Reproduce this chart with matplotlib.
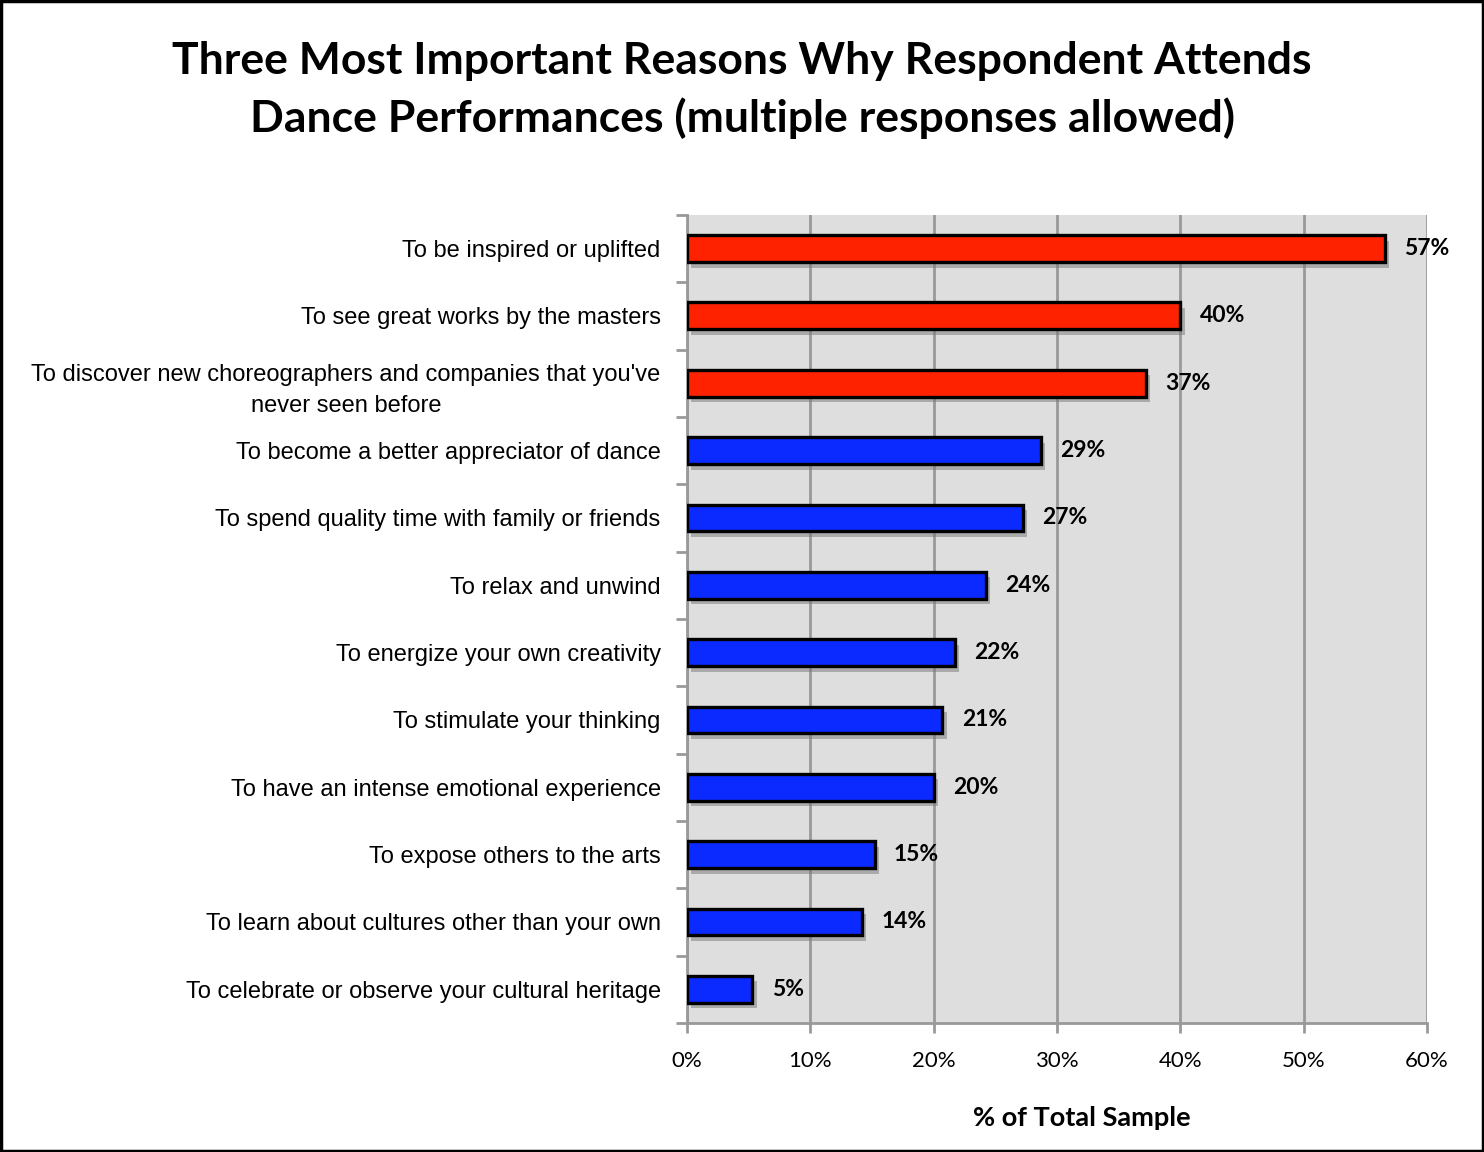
import matplotlib
matplotlib.use("Agg")
from matplotlib import pyplot as plt
import matplotlib.patheffects as pe

reasons = [
    "To be inspired or uplifted",
    "To see great works by the masters",
    "To discover new choreographers and companies that you've\nnever seen before",
    "To become a better appreciator of dance",
    "To spend quality time with family or friends",
    "To relax and unwind",
    "To energize your own creativity",
    "To stimulate your thinking",
    "To have an intense emotional experience",
    "To expose others to the arts",
    "To learn about cultures other than your own",
    "To celebrate or observe your cultural heritage",
]
values = [56.6, 40.0, 37.2, 28.7, 27.2, 24.2, 21.7, 20.7, 20.0, 15.2, 14.2, 5.3]
labels = ["57%", "40%", "37%", "29%", "27%", "24%", "22%", "21%", "20%", "15%", "14%", "5%"]
top_n = 3

red = "#FF2200"
blue = "#0A2AFF"
label_font = ["Liberation Sans", "DejaVu Sans"]
calib = ["Lato", "DejaVu Sans"]

fig = plt.figure(figsize=(14.84, 11.52), dpi=100)
ax = fig.add_axes([0.463, 0.112, 0.4986, 0.7014])
ax.set_facecolor("#DEDEDE")

ypos = list(range(len(values)))
colors = [red if i < top_n else blue for i in ypos]
bars = ax.barh(ypos, values, height=0.4, color=colors, edgecolor="black", linewidth=2.4, zorder=3)
for b in bars:
    b.set_path_effects([pe.SimplePatchShadow(offset=(3, -4), shadow_rgbFace="#777777", alpha=0.5), pe.Normal()])

for i, (v, lab) in enumerate(zip(values, labels)):
    ax.annotate(lab, (v, i), xytext=(14, 0), textcoords="offset points", va="center", ha="left",
                fontsize=16.5, fontweight="bold", family=calib, zorder=5)

ax.set_ylim(len(values) - 0.5, -0.5)
ax.set_xlim(0, 60)
ax.set_xticks(range(0, 61, 10))
ax.set_xticklabels([f"{t}%" for t in range(0, 61, 10)], fontsize=16, family=calib)
ax.set_yticks(ypos)
ax.set_yticklabels(reasons, fontsize=17, family=label_font, ha="right", multialignment="center")
for t in ax.get_yticklabels():
    t.set_linespacing(1.55)
ax.set_yticks([i - 0.5 for i in range(len(values) + 1)], minor=True)
ax.tick_params(axis="y", which="major", length=0, pad=19)
ax.tick_params(axis="y", which="minor", length=8, width=2, color="#999999", direction="out")
ax.tick_params(axis="x", length=7, width=2, color="#999999", direction="out", pad=13)

ax.grid(axis="x", color="#999999", linewidth=2, zorder=1)
ax.set_axisbelow(True)
for s in ["top", "right"]:
    ax.spines[s].set_visible(False)
for s in ["left", "bottom"]:
    ax.spines[s].set_color("#999999")
    ax.spines[s].set_linewidth(2)

ax.set_xlabel("% of Total Sample", fontsize=19.5, fontweight="bold", family=calib)
ax.xaxis.set_label_coords(0.534, -0.103)

fig.text(0.5, 0.9215, "Three Most Important Reasons Why Respondent Attends\nDance Performances (multiple responses allowed)",
         ha="center", va="center", fontsize=32, fontweight="bold", family=calib, linespacing=1.47)

fig.patches.append(plt.Rectangle((0.001, 0.001), 0.998, 0.998, transform=fig.transFigure,
                                 fill=False, edgecolor="black", linewidth=2.5))

fig.savefig("out.png", dpi=100)
